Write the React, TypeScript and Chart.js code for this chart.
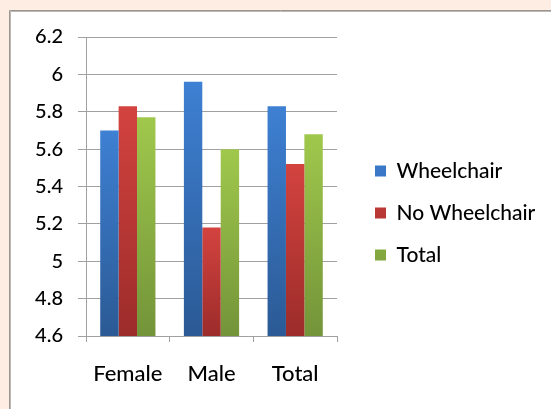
import React, { useEffect, useRef } from 'react';
import { Chart, registerables } from 'chart.js';

Chart.register(...registerables);

const categories = ['Female', 'Male', 'Total'];
const seriesNames = ['Wheelchair', 'No Wheelchair', 'Total'];
const wheelchair = [5.7, 5.96, 5.83];
const noWheelchair = [5.83, 5.18, 5.52];
const totalSeries = [5.77, 5.6, 5.68];
const yTicks = [4.6, 4.8, 5, 5.2, 5.4, 5.6, 5.8, 6, 6.2];

const seriesColors: [string, string][] = [
  ['#3e80d3', '#2b5a95'],
  ['#d3433f', '#9c2c2a'],
  ['#a0c84c', '#739439'],
];

const gridColor = '#a0a0a0';
const tickFont = { family: 'Lato', size: 20, weight: '500' };
const catFont = { family: 'Lato', size: 22, weight: '500' };
const legendFont = { family: 'Lato', size: 21, weight: '500' };

function barGradient(top: string, bottom: string) {
  return (ctx: any) => {
    const chart = ctx.chart;
    const area = chart.chartArea;
    if (!area) return top;
    const yScale = chart.scales.y;
    let y0 = area.top;
    if (ctx.type === 'data' && yScale && typeof ctx.raw === 'number') {
      y0 = yScale.getPixelForValue(ctx.raw);
    }
    const y1 = area.bottom;
    if (!(y1 > y0)) return top;
    const g = chart.ctx.createLinearGradient(0, y0, 0, y1);
    g.addColorStop(0, top);
    g.addColorStop(1, bottom);
    return g;
  };
}

const backgroundPlugin = {
  id: 'pageBackground',
  beforeDraw(chart: any) {
    const c = chart.ctx;
    const w = chart.width;
    const h = chart.height;
    c.save();
    c.fillStyle = '#fdede2';
    c.fillRect(0, 0, w, h);
    c.fillStyle = '#ffffff';
    c.fillRect(10, 11, w - 10, h - 11);
    c.lineWidth = 1;
    c.strokeStyle = '#bdb7b3';
    c.beginPath();
    c.moveTo(w, 11.5);
    c.lineTo(10.5, 11.5);
    c.lineTo(10.5, h);
    c.stroke();
    c.strokeStyle = '#9a9694';
    c.beginPath();
    c.moveTo(w, 10.5);
    c.lineTo(9.5, 10.5);
    c.lineTo(9.5, h);
    c.stroke();
    c.restore();
  },
};

const legendPlacePlugin = {
  id: 'legendPlace',
  afterLayout(chart: any) {
    const lg = chart.legend;
    if (!lg) return;
    const pad = lg.options.labels.padding;
    const dx = 375 - pad - lg.left;
    lg.left += dx;
    lg.right += dx;
    const cy = (lg.top + lg.bottom) / 2;
    const dy = 213 - cy;
    lg.top += dy;
    lg.bottom += dy;
  },
};

export default function App() {
  const canvasRef = useRef<HTMLCanvasElement | null>(null);

  useEffect(() => {
    const canvas = canvasRef.current;
    if (!canvas) return;
    const values = [wheelchair, noWheelchair, totalSeries];
    const chart = new Chart(canvas, {
      type: 'bar',
      data: {
        labels: categories,
        datasets: seriesNames.map((name, i) => ({
          label: name,
          data: values[i],
          backgroundColor: barGradient(seriesColors[i][0], seriesColors[i][1]),
          borderWidth: 0,
          categoryPercentage: 0.66,
          barPercentage: 1.0,
        })),
      },
      options: {
        responsive: false,
        animation: false,
        devicePixelRatio: 1,
        layout: { padding: { left: 0, top: 37, right: 214, bottom: 0 } },
        plugins: {
          legend: {
            position: 'chartArea',
            align: 'center',
            labels: {
              boxWidth: 11,
              boxHeight: 11,
              padding: 21,
              color: '#000',
              font: legendFont,
            },
          },
          tooltip: { enabled: false },
        },
        scales: {
          x: {
            grid: {
              display: true,
              drawOnChartArea: false,
              offset: true,
              tickLength: 6,
              color: gridColor,
            },
            border: { color: gridColor },
            ticks: { color: '#000', font: catFont, padding: 19 },
            afterFit(s: any) {
              s.height = 73;
            },
          },
          y: {
            min: 4.6,
            max: 6.2,
            afterBuildTicks(s: any) {
              s.ticks = yTicks.map((v) => ({ value: v }));
            },
            grid: { color: gridColor, tickLength: 8 },
            border: { color: gridColor },
            ticks: {
              color: '#000',
              font: tickFont,
              padding: 15,
              callback: (v: any) => String(v),
            },
            afterFit(s: any) {
              s.width = 86;
            },
          },
        },
      },
      plugins: [backgroundPlugin, legendPlacePlugin],
    } as any);
    return () => chart.destroy();
  }, []);

  return (
    <div style={{ position: 'absolute', left: 0, top: 0, width: 551, height: 409 }}>
      <canvas ref={canvasRef} width={551} height={409} style={{ display: 'block' }} />
    </div>
  );
}
